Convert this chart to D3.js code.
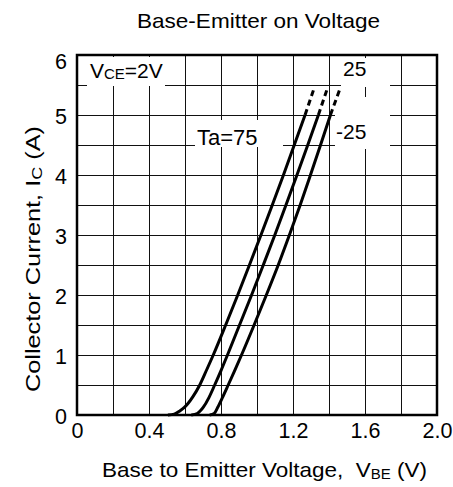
<!DOCTYPE html>
<html>
<head>
<meta charset="utf-8">
<script src="https://cdn.jsdelivr.net/npm/d3@7"></script>
<style>
  body { margin: 0; background: #fff; }
  text { font-family: "Liberation Sans", Arial, sans-serif; fill: #000; }
</style>
</head>
<body>
<div id="chart"></div>
<script>
// axis ticks and grid
const xTickLabels = [0, 0.4, 0.8, 1.2, 1.6, 2.0];
const yTickLabels = [0, 1, 2, 3, 4, 5, 6];
const xGridValues = [0.2, 0.4, 0.6, 0.8, 1.0, 1.2, 1.4, 1.6, 1.8];
const yGridValues = [0.5, 1, 1.5, 2, 2.5, 3, 3.5, 4, 4.5, 5, 5.5];

// collector current (A) levels
const icLevels = [0, 0.025, 0.13, 0.29, 0.5, 0.74, 1.0, 1.5, 2.0, 2.5, 3.0, 3.5, 4.0, 4.5, 5.0];
const icLevels75 = [0, 0.015, 0.067, 0.13, 0.31, 0.5, 0.75, 1.0, 1.5, 2.0, 2.5, 3.0, 3.5, 4.0, 4.5, 5.0];

// base-emitter voltage (V), measured part (solid)
const vbe75 = [0.505, 0.54, 0.571, 0.598, 0.645, 0.682, 0.72, 0.757, 0.826, 0.893, 0.958, 1.022, 1.085, 1.147, 1.207, 1.267];
const vbe25 = [0.635, 0.668, 0.702, 0.733, 0.765, 0.80, 0.836, 0.903, 0.970, 1.035, 1.099, 1.161, 1.222, 1.282, 1.341];
const vbeMinus25 = [0.737, 0.762, 0.782, 0.808, 0.84, 0.876, 0.914, 0.984, 1.052, 1.118, 1.180, 1.240, 1.297, 1.353, 1.408];

// dashed extension above 5 A
const icExtension = [5.0, 5.47];
const vbe75Ext = [1.267, 1.32];
const vbe25Ext = [1.341, 1.394];
const vbeMinus25Ext = [1.408, 1.465];

const series = [
  { name: "75", solid: vbe75.map((v, i) => ({ x: v, y: icLevels75[i] })), ext: vbe75Ext.map((v, i) => ({ x: v, y: icExtension[i] })) },
  { name: "25", solid: vbe25.map((v, i) => ({ x: v, y: icLevels[i] })), ext: vbe25Ext.map((v, i) => ({ x: v, y: icExtension[i] })) },
  { name: "-25", solid: vbeMinus25.map((v, i) => ({ x: v, y: icLevels[i] })), ext: vbeMinus25Ext.map((v, i) => ({ x: v, y: icExtension[i] })) },
];

const margin = { top: 55, left: 77 };
const width = 360, height = 360;

const svg = d3.select("#chart")
  .append("svg")
  .attr("width", 453)
  .attr("height", 487);

const g = svg.append("g")
  .attr("transform", `translate(${margin.left},${margin.top})`);

const x = d3.scaleLinear().domain([0, 2.0]).range([0, width]);
const y = d3.scaleLinear().domain([0, 6]).range([height, 0]);

// grid
g.selectAll(".vgrid")
  .data(xGridValues)
  .enter()
  .append("line")
  .attr("x1", d => Math.round(x(d)) + 0.5)
  .attr("x2", d => Math.round(x(d)) + 0.5)
  .attr("y1", 0)
  .attr("y2", height)
  .attr("stroke", "#111")
  .attr("stroke-width", 1);

g.selectAll(".hgrid")
  .data(yGridValues)
  .enter()
  .append("line")
  .attr("y1", d => Math.round(y(d)) + 0.5)
  .attr("y2", d => Math.round(y(d)) + 0.5)
  .attr("x1", 0)
  .attr("x2", width)
  .attr("stroke", "#111")
  .attr("stroke-width", 1);

// white boxes behind the annotations (they cut the grid)
const boxes = [[10, 2, 78, 29], [118, 65, 88, 27], [264, 3, 49, 29], [258, 42, 55, 52]];
g.selectAll(".box")
  .data(boxes)
  .enter()
  .append("rect")
  .attr("x", d => d[0])
  .attr("y", d => d[1])
  .attr("width", d => d[2])
  .attr("height", d => d[3])
  .attr("fill", "#fff");

// frame
g.append("rect")
  .attr("width", width)
  .attr("height", height)
  .attr("fill", "none")
  .attr("stroke", "#000")
  .attr("stroke-width", 2.5);

// curves
const line = d3.line()
  .x(d => x(d.x))
  .y(d => y(d.y))
  .curve(d3.curveMonotoneX);

g.selectAll(".curve")
  .data(series)
  .enter()
  .append("path")
  .attr("d", d => line(d.solid))
  .attr("fill", "none")
  .attr("stroke", "#000")
  .attr("stroke-width", 3);

g.selectAll(".ext")
  .data(series)
  .enter()
  .append("path")
  .attr("d", d => line(d.ext))
  .attr("fill", "none")
  .attr("stroke", "#000")
  .attr("stroke-width", 3)
  .attr("stroke-dasharray", "6,4");

// axes
const xAxis = g.append("g")
  .attr("transform", `translate(0,${height})`)
  .call(d3.axisBottom(x).tickValues(xTickLabels).tickSize(0).tickPadding(8)
    .tickFormat(d => d === 0 ? "0" : d3.format(".1f")(d)));

const yAxis = g.append("g")
  .call(d3.axisLeft(y).tickValues(yTickLabels).tickSize(0).tickPadding(10).tickFormat(d3.format("d")));

[xAxis, yAxis].forEach(a => {
  a.select(".domain").remove();
  a.selectAll("text")
    .style("font-family", "\"Liberation Sans\", Arial, sans-serif")
    .style("font-size", "21.5px")
    .attr("fill", "#000");
});
yAxis.selectAll("text").attr("dy", d => d === 6 ? "0.64em" : "0.4em");

// annotations
const vce = g.append("text")
  .attr("x", 13)
  .attr("y", 23)
  .style("font-size", "21px");
vce.append("tspan").text("V");
vce.append("tspan").text("CE").style("font-size", "15px").attr("dy", 1);
vce.append("tspan").text("=2V").attr("dy", -1);

g.append("text")
  .attr("x", 120)
  .attr("y", 90)
  .style("font-size", "22px")
  .text("Ta=75");

g.append("text")
  .attr("x", 266)
  .attr("y", 21)
  .style("font-size", "21px")
  .text("25");

g.append("text")
  .attr("x", 259)
  .attr("y", 84)
  .style("font-size", "21px")
  .text("-25");

// titles
svg.append("text")
  .attr("x", 137)
  .attr("y", 28)
  .attr("textLength", 243)
  .attr("lengthAdjust", "spacingAndGlyphs")
  .style("font-size", "21px")
  .text("Base-Emitter on Voltage");

const xTitle = svg.append("text")
  .attr("x", 102)
  .attr("y", 477)
  .attr("textLength", 325)
  .attr("lengthAdjust", "spacingAndGlyphs")
  .style("font-size", "21px");
xTitle.append("tspan").text("Base to Emitter Voltage,\u00a0 V");
xTitle.append("tspan").text("BE").style("font-size", "14px").attr("dy", 2);
xTitle.append("tspan").text(" (V)").attr("dy", -2);

const yTitle = svg.append("text")
  .attr("transform", "translate(40,392) rotate(-90)")
  .attr("textLength", 266)
  .attr("lengthAdjust", "spacingAndGlyphs")
  .style("font-size", "21px");
yTitle.append("tspan").text("Collector Current, I");
yTitle.append("tspan").text("C").style("font-size", "15px").attr("dy", 2);
yTitle.append("tspan").text(" (A)").attr("dy", -2);
</script>
</body>
</html>
